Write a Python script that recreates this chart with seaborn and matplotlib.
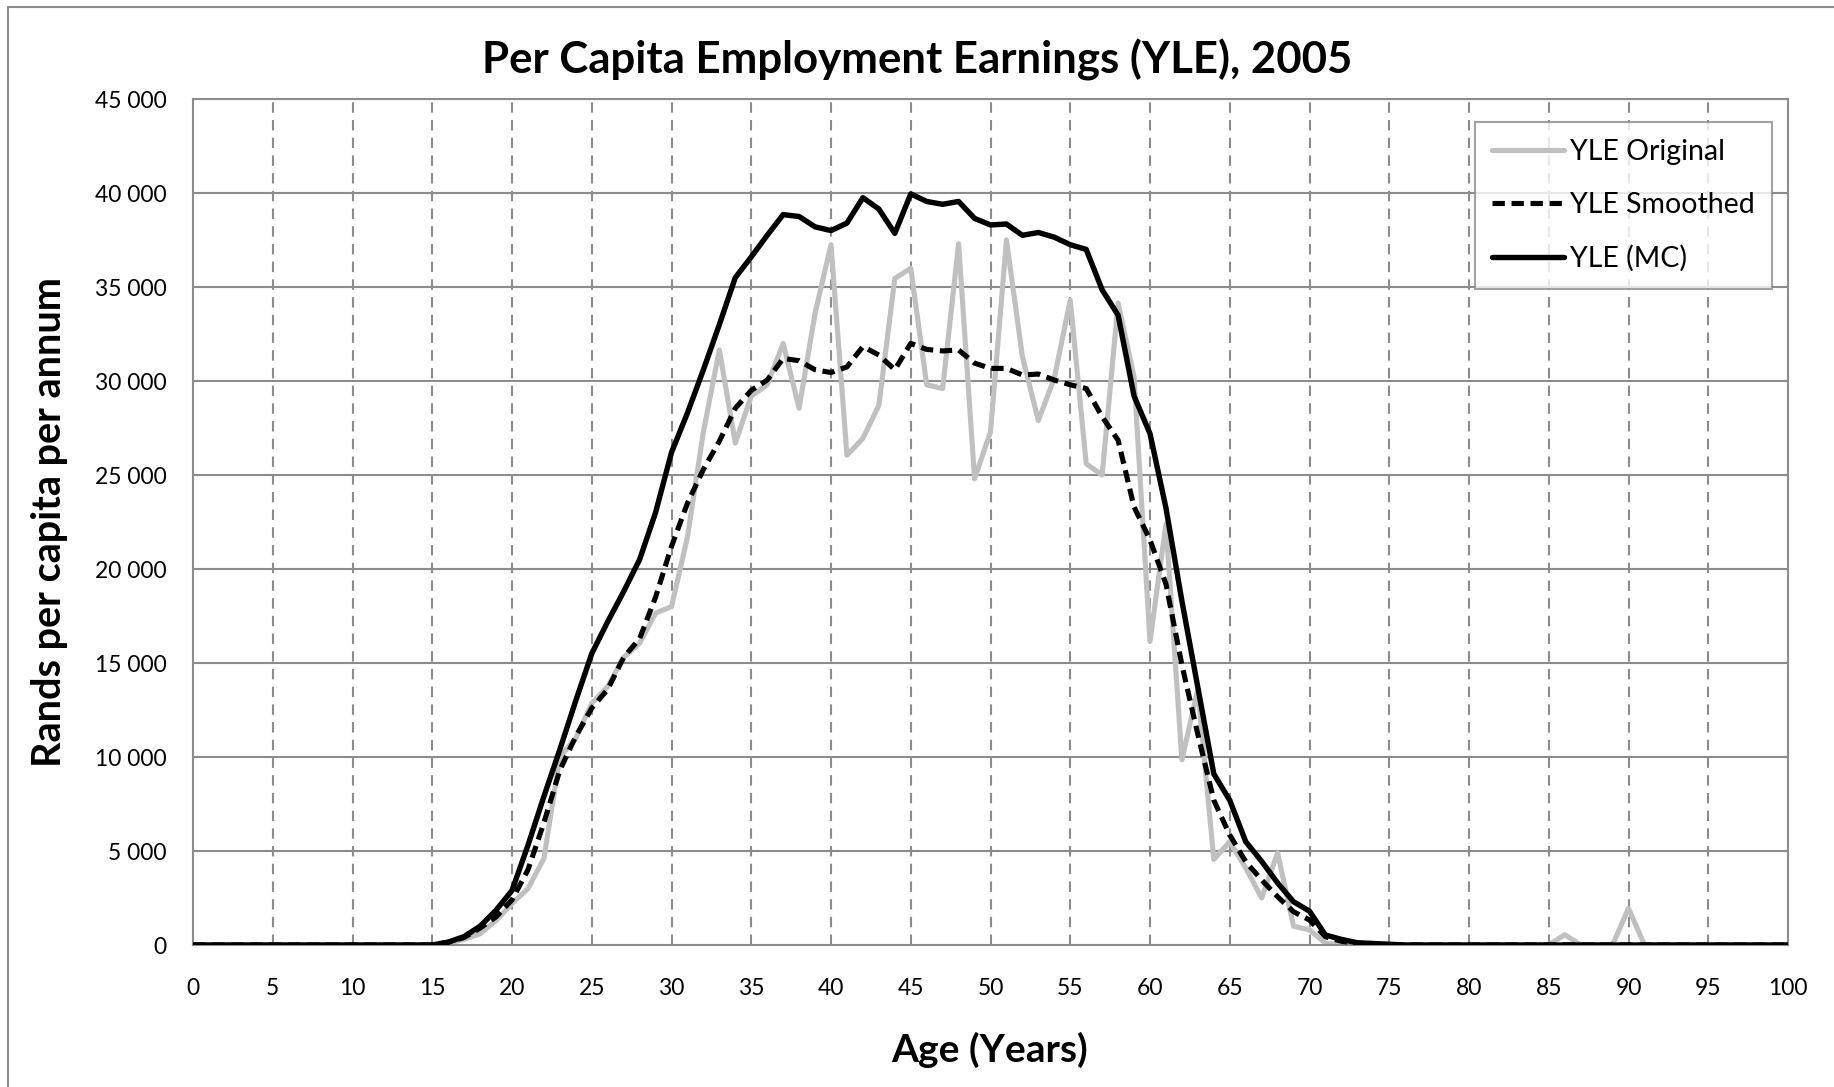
import numpy as np
import pandas as pd
import matplotlib
matplotlib.use("Agg")
import matplotlib.pyplot as plt
import matplotlib.ticker as mticker
import seaborn as sns

# === Data: per capita employment earnings by single age, 0-100 ===
ages = list(range(0, 101))

yle_original = [0] * 16 + [
    100, 300, 600, 1300, 2200,                      # 16-20
    3000, 4600, 10000, 11000, 12850,                # 21-25
    13750, 15300, 16050, 17650, 18000,              # 26-30
    21700, 27300, 31650, 26700, 29200,              # 31-35
    29800, 32000, 28550, 33600, 37250,              # 36-40
    26050, 26950, 28700, 35450, 36000,              # 41-45
    29800, 29600, 37300, 24800, 27300,              # 46-50
    37500, 31300, 27900, 30150, 34300,              # 51-55
    25600, 25000, 34150, 30200, 16150,              # 56-60
    22400, 9850, 13600, 4550, 5500,                 # 61-65
    4100, 2500, 4900, 1000, 800,                    # 66-70
    100, 0, 0, 0, 0,                                # 71-75
    0, 0, 0, 0, 0,                                  # 76-80
    0, 0, 0, 0, 0,                                  # 81-85
    550, 0, 0, 0, 1950,                             # 86-90
    0, 0, 0, 0, 0, 0, 0, 0, 0, 0,                   # 91-100
]

yle_smoothed = [0] * 16 + [
    150, 400, 900, 1500, 2400,
    4000, 6500, 9300, 11100, 12600,
    13600, 15300, 16300, 18500, 21200,
    23500, 25300, 26800, 28550, 29500,
    30050, 31200, 31080, 30600, 30450,
    30750, 31830, 31380, 30600, 32000,
    31680, 31600, 31650, 30950, 30670,
    30670, 30320, 30370, 30050, 29800,
    29600, 28100, 26850, 23300, 21550,
    19200, 14900, 11200, 7700, 5850,
    4430, 3460, 2570, 1770, 1330,
    440, 200, 80, 30, 0,
] + [0] * 25

yle_mc = [0] * 16 + [
    150, 450, 1000, 1850, 2900,
    5300, 7900, 10400, 13000, 15500,
    17200, 18800, 20500, 23000, 26200,
    28300, 30600, 33000, 35500, 36600,
    37750, 38850, 38750, 38200, 38000,
    38400, 39750, 39150, 37850, 39950,
    39550, 39400, 39550, 38650, 38300,
    38350, 37750, 37900, 37650, 37250,
    37000, 34850, 33500, 29200, 27200,
    23250, 18300, 13700, 9100, 7700,
    5500, 4450, 3300, 2300, 1800,
    530, 300, 120, 80, 40,
] + [0] * 25

x_ticks = list(range(0, 101, 5))
y_ticks = list(range(0, 45001, 5000))

df = pd.DataFrame({
    "Age": ages,
    "YLE Original": yle_original,
    "YLE Smoothed": yle_smoothed,
    "YLE (MC)": yle_mc,
})

# === Style ===
sns.set_theme(style="white")
plt.rcParams["font.family"] = ["Lato", "DejaVu Sans"]
plt.rcParams["text.color"] = "black"

W, H = 1834, 1087
fig = plt.figure(figsize=(W / 100, H / 100), dpi=100)
ax = fig.add_axes([193 / W, 1 - 945 / H, (1788 - 193) / W, (945 - 99) / H])

grid_col = "#8c8c8c"
ax.set_axisbelow(True)
for y in y_ticks[1:]:
    ax.axhline(y, color=grid_col, lw=1.5, zorder=0)
for x in x_ticks[1:-1]:
    ax.axvline(x, color=grid_col, lw=1.5, ls=(0, (5, 3.5)), zorder=0)

# === Lines ===
sns.lineplot(data=df, x="Age", y="YLE Original", ax=ax, color="#c0c0c0",
             lw=3.7, label="YLE Original", zorder=2)
sns.lineplot(data=df, x="Age", y="YLE Smoothed", ax=ax, color="black",
             lw=3.7, label="YLE Smoothed", zorder=3)
ax.lines[-1].set_dashes((2.4, 1.3))
sns.lineplot(data=df, x="Age", y="YLE (MC)", ax=ax, color="black",
             lw=3.9, label="YLE (MC)", zorder=4)
for ln in ax.lines:
    ln.set_solid_capstyle("round")
    ln.set_dash_capstyle("butt")

ax.set_xlim(0, 100)
ax.set_ylim(0, 45000)
ax.set_xticks(x_ticks)
ax.set_yticks(y_ticks)
ax.yaxis.set_major_formatter(
    mticker.FuncFormatter(lambda v, p: f"{int(v):,}".replace(",", " ")))
ax.tick_params(axis="both", length=0, labelsize=16.5, colors="black")
ax.tick_params(axis="x", pad=23.5)
ax.tick_params(axis="y", pad=19)
ax.set_xlabel("")
ax.set_ylabel("")
for side, sp in ax.spines.items():
    sp.set_color(grid_col)
    sp.set_linewidth(1.5)
    sp.set_visible(True)

leg = ax.legend(loc="upper right", bbox_to_anchor=(1772 / W, 1 - 122 / H),
                bbox_transform=fig.transFigure, borderaxespad=0,
                fontsize=20.5, frameon=True, fancybox=False, handlelength=2.55,
                handletextpad=0.2, labelspacing=0.95, borderpad=0.6)
leg.get_frame().set_edgecolor(grid_col)
leg.get_frame().set_linewidth(1.5)
for t in leg.get_texts():
    t.set_color("black")

# === Titles and labels ===
fig.text(917 / W, 1 - 60 / H, "Per Capita Employment Earnings (YLE), 2005",
         ha="center", va="center", fontsize=31.5, fontweight="bold",
         color="black")
fig.text(990 / W, 1 - 1050 / H, "Age (Years)", ha="center", va="center",
         fontsize=28, fontweight="bold", color="black")
fig.text(50 / W, 1 - 522 / H, "Rands per capita per annum", ha="center",
         va="center", rotation=90, fontsize=28.5, fontweight="bold",
         color="black")

# outer chart border (left and top edges visible)
fig.add_artist(plt.Rectangle((8 / W, -0.05), 1.1, 1.05 - 7 / H,
                             transform=fig.transFigure, fill=False,
                             edgecolor=grid_col, lw=1.5))

fig.savefig("out.png", dpi=100, facecolor="white")
